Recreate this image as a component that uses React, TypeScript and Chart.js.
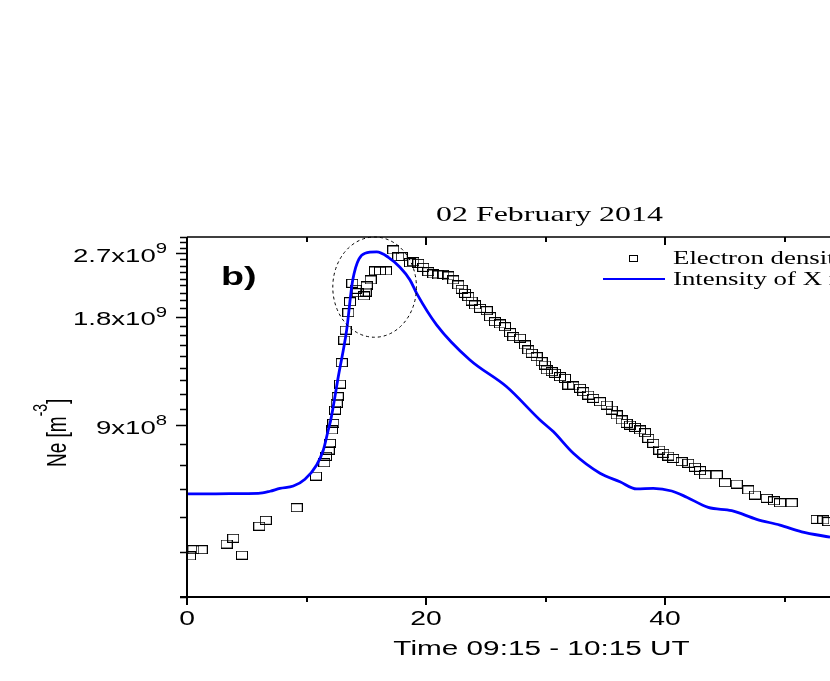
import { useEffect, useRef } from "react";
import { Chart, registerables } from "chart.js";

Chart.register(...registerables);

// ---- data ----
const NE_TIME = [0.25,0.53,1.23,3.32,3.87,4.60,6.05,6.59,9.18,10.79,
  11.49,11.63,11.86,11.97,12.13,12.24,12.38,12.53,12.61,12.80,
  12.95,13.16,13.28,13.50,13.64,13.83,14.12,14.28,14.81,14.95,
  15.04,15.37,15.73,16.15,16.65,17.26,17.68,17.97,18.66,18.94,
  19.36,19.77,20.19,20.61,21.03,21.45,21.87,22.28,22.70,22.99,
  23.26,23.54,23.82,24.10,24.52,25.08,25.36,25.77,26.19,26.61,
  27.03,27.31,27.87,28.28,28.56,28.85,29.26,29.68,29.96,30.10,
  30.52,30.79,31.21,31.63,31.91,32.33,32.89,33.16,33.58,34.00,
  34.56,35.12,35.54,35.96,36.38,36.79,37.07,37.49,37.91,38.33,
  38.60,39.02,39.52,39.86,40.28,40.69,41.40,41.95,42.51,42.93,
  43.35,44.33,45.02,46.00,46.97,47.53,48.51,49.12,49.62,50.60,
  52.69,53.25,53.67];

const NE_VALUES = [3.90e8,4.06e8,4.06e8,4.21e8,4.37e8,3.92e8,4.72e8,4.90e8,5.31e8,6.50e8,
  7.08e8,7.38e8,7.68e8,8.02e8,8.73e8,9.11e8,9.92e8,10.36e8,10.80e8,11.71e8,
  13.43e8,15.52e8,16.54e8,18.49e8,19.83e8,22.31e8,21.47e8,21.01e8,20.57e8,21.10e8,
  21.93e8,22.79e8,24.14e8,24.14e8,24.14e8,27.61e8,26.45e8,26.45e8,25.45e8,25.61e8,
  25.35e8,24.71e8,24.03e8,23.68e8,23.53e8,23.63e8,23.38e8,22.79e8,22.07e8,21.47e8,
  20.92e8,20.48e8,19.92e8,19.42e8,19.01e8,18.72e8,18.02e8,17.45e8,17.20e8,16.90e8,
  16.27e8,15.86e8,15.70e8,15.04e8,14.57e8,14.26e8,13.95e8,13.51e8,13.23e8,12.82e8,
  12.68e8,12.55e8,12.28e8,12.15e8,11.64e8,11.57e8,11.40e8,11.15e8,10.92e8,10.69e8,
  10.46e8,10.24e8,9.92e8,9.61e8,9.31e8,9.11e8,9.01e8,8.88e8,8.73e8,8.58e8,
  8.28e8,8.02e8,7.68e8,7.52e8,7.39e8,7.28e8,7.13e8,7.06e8,6.88e8,6.73e8,
  6.55e8,6.55e8,6.23e8,6.18e8,5.95e8,5.76e8,5.64e8,5.55e8,5.48e8,5.48e8,
  4.93e8,4.91e8,4.86e8];

const XRAY_TIME = [0,1.09,3.60,5.97,6.95,7.78,8.90,9.87,10.85,11.41,
  11.82,12.03,12.66,13.36,13.87,14.90,15.87,16.85,17.82,18.66,
  19.22,20.90,23.68,26.75,29.54,30.65,32.33,34.56,36.23,37.63,
  39.02,40.56,41.82,43.62,45.58,47.67,49.62,51.44,53.81];

const XRAY_VALUES = [5.80e8,5.80e8,5.81e8,5.82e8,5.90e8,6.01e8,6.10e8,6.37e8,6.98e8,7.68e8,
  8.73e8,9.31e8,12.28e8,16.54e8,22.79e8,27.03e8,27.26e8,26.34e8,24.71e8,22.79e8,
  20.92e8,17.08e8,13.66e8,11.51e8,9.31e8,8.64e8,7.52e8,6.62e8,6.27e8,5.99e8,
  6.01e8,5.91e8,5.68e8,5.32e8,5.21e8,4.93e8,4.75e8,4.55e8,4.40e8];

const X_MIN = 0;
const X_MAX = 60;
const X_MAJOR_TICKS = [0, 20, 40, 60];
const X_MINOR_TICKS = [10, 30, 50];
const Y_MIN = 3e8;
const Y_MAX = 3e9;
const Y_MINOR_STEP = 1e8;
const Y_LABEL_VALUES = [9e8, 1.8e9, 2.7e9];
const Y_LABEL_MANTISSA = ["9x10", "1.8x10", "2.7x10"];
const Y_LABEL_EXPONENT = ["8", "9", "9"];
const TITLE = "02 February 2014";
const X_TITLE = "Time 09:15 - 10:15 UT";
const PANEL_LABEL = "b)";
const SERIES_NAMES = ["Electron density", "Intensity of X rays"];
// highlighted peak region (data units)
const ELLIPSE_X = [12.2, 19.2];
const ELLIPSE_Y = [1.58e9, 3.0e9];

const SANS = '"Liberation Sans", Arial, sans-serif';
const SERIF = '"Liberation Serif", "Times New Roman", serif';
const SX = 1.45; // horizontal stretch of the original figure's text

function stretchedText(ctx: CanvasRenderingContext2D, s: string, x: number, y: number, font: string, align: CanvasTextAlign) {
  ctx.save();
  ctx.translate(x, y);
  ctx.scale(SX, 1);
  ctx.font = font;
  ctx.textAlign = align;
  ctx.textBaseline = "alphabetic";
  ctx.fillStyle = "#000";
  ctx.fillText(s, 0, 0);
  ctx.restore();
}

const decor = {
  id: "decor",
  afterDraw(chart: any) {
    const ctx: CanvasRenderingContext2D = chart.ctx;
    const xs = chart.scales.x;
    const ys = chart.scales.y;
    const a = chart.chartArea;
    ctx.save();
    ctx.strokeStyle = "#000";
    ctx.fillStyle = "#000";
    ctx.setLineDash([]);

    // axis lines
    ctx.lineWidth = 2;
    ctx.beginPath();
    ctx.moveTo(a.left, a.top);
    ctx.lineTo(a.left, a.bottom);
    ctx.moveTo(a.left - 7, a.bottom);
    ctx.lineTo(a.right, a.bottom);
    ctx.stroke();
    ctx.lineWidth = 1.5;
    ctx.beginPath();
    ctx.moveTo(a.left, a.top);
    ctx.lineTo(a.right, a.top);
    ctx.moveTo(a.right, a.top);
    ctx.lineTo(a.right, a.bottom);
    ctx.stroke();

    // x ticks (bottom outward, top inward)
    ctx.lineWidth = 2;
    ctx.beginPath();
    X_MAJOR_TICKS.forEach((v) => {
      const px = Math.round(xs.getPixelForValue(v));
      ctx.moveTo(px, a.bottom);
      ctx.lineTo(px, a.bottom + 8);
      ctx.moveTo(px, a.top);
      ctx.lineTo(px, a.top + 8);
    });
    X_MINOR_TICKS.forEach((v) => {
      const px = Math.round(xs.getPixelForValue(v));
      ctx.moveTo(px, a.bottom);
      ctx.lineTo(px, a.bottom + 5);
      ctx.moveTo(px, a.top);
      ctx.lineTo(px, a.top + 5);
    });
    ctx.stroke();

    // y ticks (outward)
    ctx.lineWidth = 1.6;
    ctx.beginPath();
    for (let k = 0; Y_MIN + k * Y_MINOR_STEP <= Y_MAX * 1.0001; k++) {
      const v = Y_MIN + k * Y_MINOR_STEP;
      const py = Math.round(ys.getPixelForValue(v)) + 0.5;
      const major = Y_LABEL_VALUES.some((m) => Math.abs(m - v) < 1e6);
      ctx.moveTo(a.left, py);
      ctx.lineTo(a.left - (major ? 11 : 7), py);
    }
    ctx.stroke();

    // y tick labels with superscript
    Y_LABEL_VALUES.forEach((v, i) => {
      const py = ys.getPixelForValue(v);
      ctx.font = `19px ${SANS}`;
      const w1 = ctx.measureText(Y_LABEL_MANTISSA[i]).width * SX;
      ctx.font = `14px ${SANS}`;
      const w2 = ctx.measureText(Y_LABEL_EXPONENT[i]).width * SX;
      const right = a.left - 20;
      stretchedText(ctx, Y_LABEL_MANTISSA[i], right - w1 - w2, py + 8.5, `19px ${SANS}`, "left");
      stretchedText(ctx, Y_LABEL_EXPONENT[i], right - w2, py, `14px ${SANS}`, "left");
    });

    // x tick labels
    X_MAJOR_TICKS.forEach((v) => {
      const px = xs.getPixelForValue(v);
      stretchedText(ctx, String(v), px, a.bottom + 28, `19.5px ${SANS}`, "center");
    });

    // axis titles
    stretchedText(ctx, X_TITLE, (a.left + a.right) / 2 - 4, a.bottom + 58, `20.5px ${SANS}`, "center");
    stretchedText(ctx, TITLE, (a.left + a.right) / 2 + 4, a.top - 16, `22px ${SERIF}`, "center");

    // y title, rotated
    ctx.save();
    ctx.translate(66, 467);
    ctx.scale(SX, 1);
    ctx.rotate(-Math.PI / 2);
    ctx.textAlign = "left";
    ctx.textBaseline = "alphabetic";
    ctx.font = `19px ${SANS}`;
    ctx.fillText("Ne [m", 0, 0);
    let w = ctx.measureText("Ne [m").width;
    ctx.font = `14px ${SANS}`;
    ctx.fillText("-3", w, -13);
    w += ctx.measureText("-3").width;
    ctx.font = `19px ${SANS}`;
    ctx.fillText("]", w, 0);
    ctx.restore();

    // panel label
    stretchedText(ctx, PANEL_LABEL, a.left + 34, a.top + 48, `bold 26px ${SANS}`, "left");

    // legend
    ctx.lineWidth = 1;
    ctx.strokeStyle = "#000";
    ctx.strokeRect(629.5, 255.5, 8, 6);
    stretchedText(ctx, SERIES_NAMES[0], 673, 264, `18.5px ${SERIF}`, "left");
    ctx.strokeStyle = "#0000ff";
    ctx.lineWidth = 2;
    ctx.beginPath();
    ctx.moveTo(603, 279);
    ctx.lineTo(665, 279);
    ctx.stroke();
    stretchedText(ctx, SERIES_NAMES[1], 673, 285, `18.5px ${SERIF}`, "left");

    // dashed ellipse around the peak
    const ex0 = xs.getPixelForValue(ELLIPSE_X[0]);
    const ex1 = xs.getPixelForValue(ELLIPSE_X[1]);
    const ey0 = ys.getPixelForValue(ELLIPSE_Y[0]);
    const ey1 = ys.getPixelForValue(ELLIPSE_Y[1]);
    ctx.strokeStyle = "#000";
    ctx.lineWidth = 1;
    ctx.setLineDash([3, 3]);
    ctx.beginPath();
    ctx.ellipse((ex0 + ex1) / 2, (ey0 + ey1) / 2, Math.abs(ex1 - ex0) / 2, Math.abs(ey1 - ey0) / 2, 0, 0, Math.PI * 2);
    ctx.stroke();
    ctx.restore();
  },
};

export default function App() {
  const ref = useRef<HTMLCanvasElement | null>(null);
  useEffect(() => {
    const canvas = ref.current;
    if (!canvas) return;
    const marker = document.createElement("canvas");
    marker.width = 12;
    marker.height = 9;
    const m = marker.getContext("2d")!;
    m.strokeStyle = "#000";
    m.lineWidth = 1;
    m.strokeRect(0.5, 0.5, 11, 8);

    const chart = new Chart(canvas, {
      type: "scatter",
      data: {
        datasets: [
          {
            label: SERIES_NAMES[0],
            data: NE_TIME.map((t, i) => ({ x: t, y: NE_VALUES[i] })),
            pointStyle: marker as any,
            pointRadius: 6,
            showLine: false,
            order: 1,
          },
          {
            label: SERIES_NAMES[1],
            data: XRAY_TIME.map((t, i) => ({ x: t, y: XRAY_VALUES[i] })),
            showLine: true,
            pointRadius: 0,
            borderColor: "#0000ff",
            borderWidth: 2.8,
            cubicInterpolationMode: "monotone",
            fill: false,
            order: 0,
          } as any,
        ],
      },
      options: {
        responsive: false,
        animation: false,
        devicePixelRatio: 1,
        events: [],
        layout: { padding: { left: 187, right: 96, top: 237, bottom: 84 } },
        scales: {
          x: { type: "linear", min: X_MIN, max: X_MAX, display: false },
          y: { type: "logarithmic", min: Y_MIN, max: Y_MAX, display: false },
        },
        plugins: {
          legend: { display: false },
          tooltip: { enabled: false },
          title: { display: false },
        },
      },
      plugins: [decor],
    });
    return () => chart.destroy();
  }, []);

  return (
    <div style={{ position: "fixed", left: 0, top: 0, width: 830, height: 681, overflow: "hidden", background: "#fff" }}>
      <canvas ref={ref} width={1000} height={681} style={{ display: "block", width: 1000, height: 681 }} />
    </div>
  );
}
